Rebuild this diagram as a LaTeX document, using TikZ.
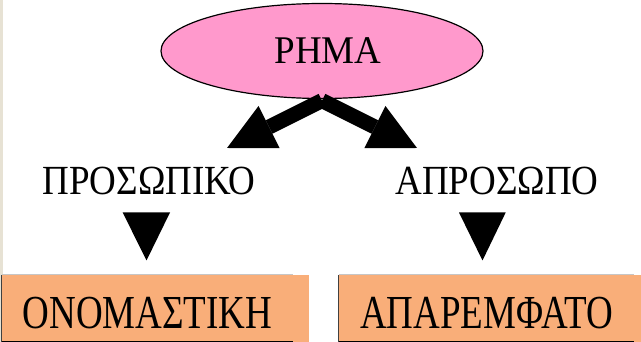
\documentclass[tikz,border=0pt]{standalone}
\usepackage{graphicx}
\usepackage{fontspec}
\setmainfont{Liberation Serif}
\usetikzlibrary{arrows.meta,shapes.geometric}
\definecolor{pinkfill}{RGB}{255,153,204}
\definecolor{orangefill}{RGB}{249,174,121}
\definecolor{stripcol}{RGB}{231,226,212}
\newcommand\vstretch[2]{\scalebox{1}[#1]{#2}}
\begin{document}
\begin{tikzpicture}[x=1pt,y=-1pt,
  txt/.style={font=\fontsize{37}{40}\selectfont},
  lbl/.style={txt, inner sep=0pt, anchor=base},
  boxnode/.style={txt, fill=orangefill, minimum height=66.5pt, inner sep=0pt, text height=40pt, text depth=0pt},
  bigarrow/.style={line width=15pt, -{Triangle[length=47pt,width=47pt,line width=0pt]}},
  ]
\useasboundingbox (0,0) rectangle (641,342);
\fill[white] (0,0) rectangle (641,342);
\fill[stripcol] (0,0) rectangle (3,342);
% ellipse
\node[txt, ellipse, draw, line width=1.2pt, fill=pinkfill, minimum width=322pt, minimum height=95pt, inner sep=0pt] (rhma) at (322,51) {\hspace*{12pt}\vstretch{1.06}{ΡΗΜΑ}};
% arrows
\coordinate (apex) at (322,100.6);
\coordinate (ltip) at (227,148);
\coordinate (rtip) at (417,148);
\draw[bigarrow] (apex) -- (ltip);
\draw[bigarrow] (apex) -- (rtip);
% labels
\node[lbl] (pros) at (149,195) {\vstretch{1.12}{ΠΡΟΣΩΠΙΚΟ}};
\node[lbl] (apros) at (497,195) {\vstretch{1.12}{ΑΠΡΟΣΩΠΟ}};
% down triangles
\fill (122.7,212.5) -- (170,212.5) -- (146.5,260.5) -- cycle;
\fill (459,212.5) -- (505.7,212.5) -- (482.5,260.5) -- cycle;
% boxes
\node[boxnode, minimum width=291pt] (b1) at (147.5,308.25) {\vstretch{1.28}{ΟΝΟΜΑΣΤΙΚΗ}};
\fill[orangefill] (b1.north east) rectangle ([xshift=16pt]b1.south east);
\draw[gray!45, line width=0.8pt] (b1.north west) -- (b1.north east);
\draw[darkgray, line width=0.8pt] (b1.north west) -- (b1.south west);
\draw[black, line width=0.8pt] (b1.south west) -- (b1.south east);
\node[boxnode, minimum width=295pt] (b2) at (486.5,308.25) {\vstretch{1.28}{ΑΠΑΡΕΜΦΑΤΟ}};
\fill[orangefill] (b2.north east) rectangle ([xshift=7pt]b2.south east);
\draw[gray!45, line width=0.8pt] (b2.north west) -- (b2.north east);
\draw[darkgray, line width=0.8pt] (b2.north west) -- (b2.south west);
\draw[black, line width=0.8pt] (b2.south west) -- (b2.south east);
\end{tikzpicture}
\end{document}
